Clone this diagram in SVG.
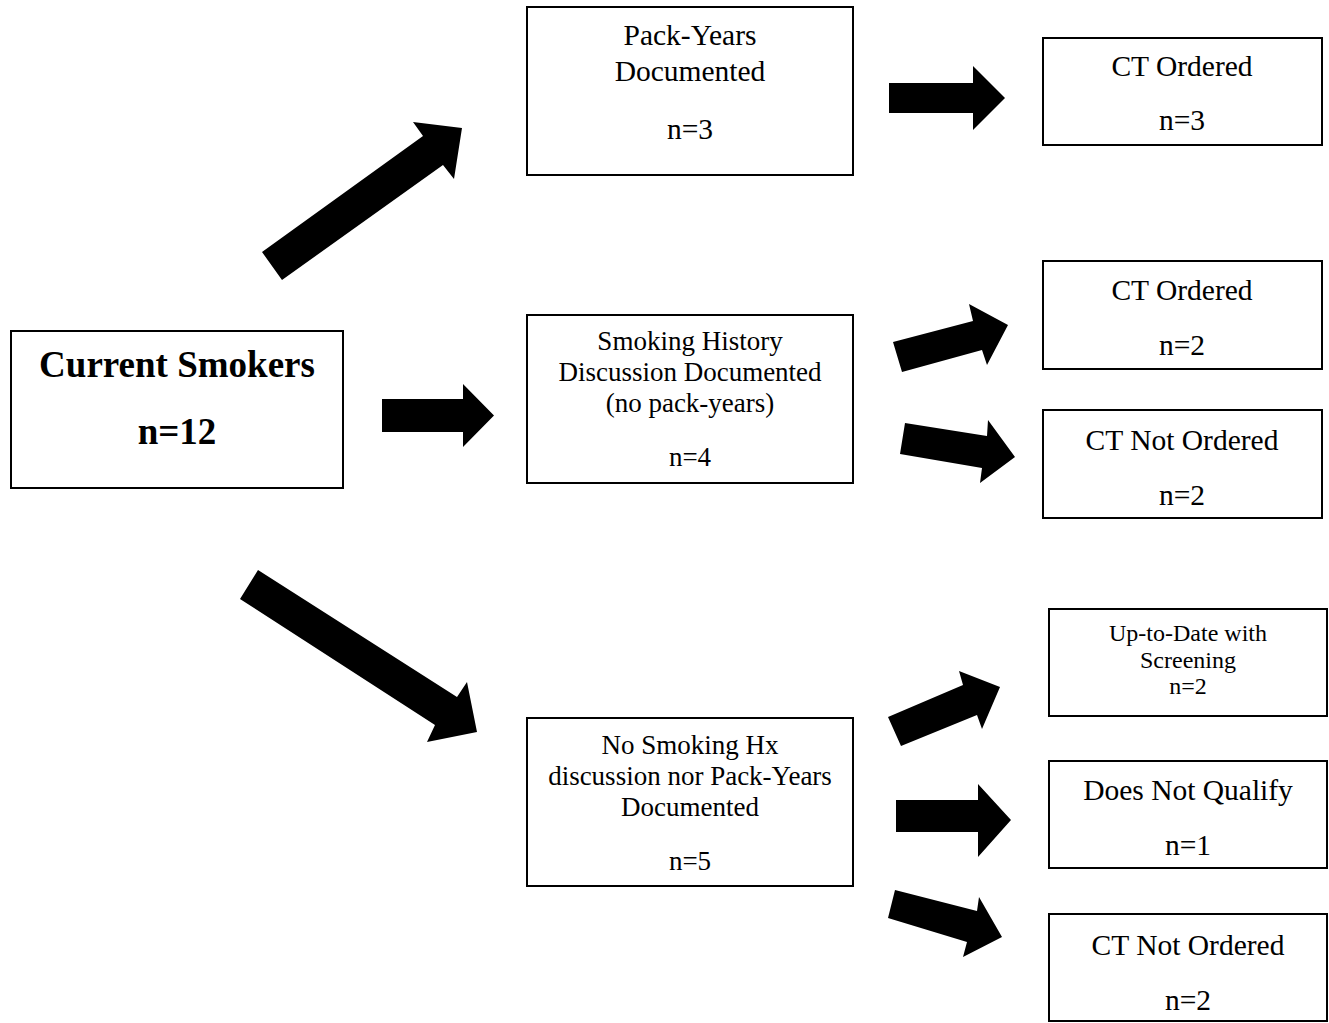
<svg xmlns="http://www.w3.org/2000/svg" width="1329" height="1023" viewBox="0 0 1329 1023">
<style>
.box{fill:#fff;stroke:#000;stroke-width:2}
.t{font-family:"Liberation Serif","Times New Roman",serif;fill:#000;text-anchor:middle}
.f28{font-size:29.5px}
.f26{font-size:27px}
.f24{font-size:24px}
.b{font-size:37px;font-weight:bold}
.arrow{fill:#000}
</style>
<rect width="1329" height="1023" fill="#fff"/>
<g id="connectors">
<polygon class="arrow" points="262,252 423,136 413,122 462,128 454,179 443,165 282,280"/>
<polygon class="arrow" points="382,399 463,399 463,384 494,415.5 463,447 463,432 382,432"/>
<polygon class="arrow" points="258,570 457,697 467,682 477,732 427,742 435,725 240,599"/>
<polygon class="arrow" points="889,83 973,83 973,66 1005,98 973,130 973,113 889,113"/>
<polygon class="arrow" points="893,342 973,321 969,304 1008,325 987,365 982,350 902,372"/>
<polygon class="arrow" points="905,423 987,436 988,420 1015,457 980,483 982,468 900,454"/>
<polygon class="arrow" points="888,717 963,685 959,671 1000,687 982,729 977,715 901,746"/>
<polygon class="arrow" points="896,800 978,800 978,784 1011,820 978,857 978,832 896,832"/>
<polygon class="arrow" points="895,890 977,911 979,897 1002,937 963,957 967,942 888,918"/>
</g>
<g id="current-smokers">
<rect class="box" x="11" y="331" width="332" height="157"/>
<text class="t b" x="177" y="377">Current Smokers</text>
<text class="t b" x="177" y="444">n=12</text>
</g>
<g id="pack-years">
<rect class="box" x="527" y="7" width="326" height="168"/>
<text class="t f28" x="690" y="45">Pack-Years</text>
<text class="t f28" x="690" y="81">Documented</text>
<text class="t f28" x="690" y="139">n=3</text>
</g>
<g id="smoking-history">
<rect class="box" x="527" y="315" width="326" height="168"/>
<text class="t f26" x="690" y="350">Smoking History</text>
<text class="t f26" x="690" y="381">Discussion Documented</text>
<text class="t f26" x="690" y="412">(no pack-years)</text>
<text class="t f26" x="690" y="466">n=4</text>
</g>
<g id="no-smoking-hx">
<rect class="box" x="527" y="718" width="326" height="168"/>
<text class="t f26" x="690" y="754">No Smoking Hx</text>
<text class="t f26" x="690" y="785">discussion nor Pack-Years</text>
<text class="t f26" x="690" y="816">Documented</text>
<text class="t f26" x="690" y="870">n=5</text>
</g>
<g id="ct-ordered-1">
<rect class="box" x="1043" y="38" width="279" height="107"/>
<text class="t f28" x="1182" y="76">CT Ordered</text>
<text class="t f28" x="1182" y="130">n=3</text>
</g>
<g id="ct-ordered-2">
<rect class="box" x="1043" y="261" width="279" height="108"/>
<text class="t f28" x="1182" y="300">CT Ordered</text>
<text class="t f28" x="1182" y="355">n=2</text>
</g>
<g id="ct-not-ordered-1">
<rect class="box" x="1043" y="410" width="279" height="108"/>
<text class="t f28" x="1182" y="450">CT Not Ordered</text>
<text class="t f28" x="1182" y="505">n=2</text>
</g>
<g id="up-to-date">
<rect class="box" x="1049" y="609" width="278" height="107"/>
<text class="t f24" x="1188" y="641">Up-to-Date with</text>
<text class="t f24" x="1188" y="668">Screening</text>
<text class="t f24" x="1188" y="694">n=2</text>
</g>
<g id="does-not-qualify">
<rect class="box" x="1049" y="761" width="278" height="107"/>
<text class="t f28" x="1188" y="800">Does Not Qualify</text>
<text class="t f28" x="1188" y="855">n=1</text>
</g>
<g id="ct-not-ordered-2">
<rect class="box" x="1049" y="914" width="278" height="107"/>
<text class="t f28" x="1188" y="955">CT Not Ordered</text>
<text class="t f28" x="1188" y="1010">n=2</text>
</g>
</svg>
